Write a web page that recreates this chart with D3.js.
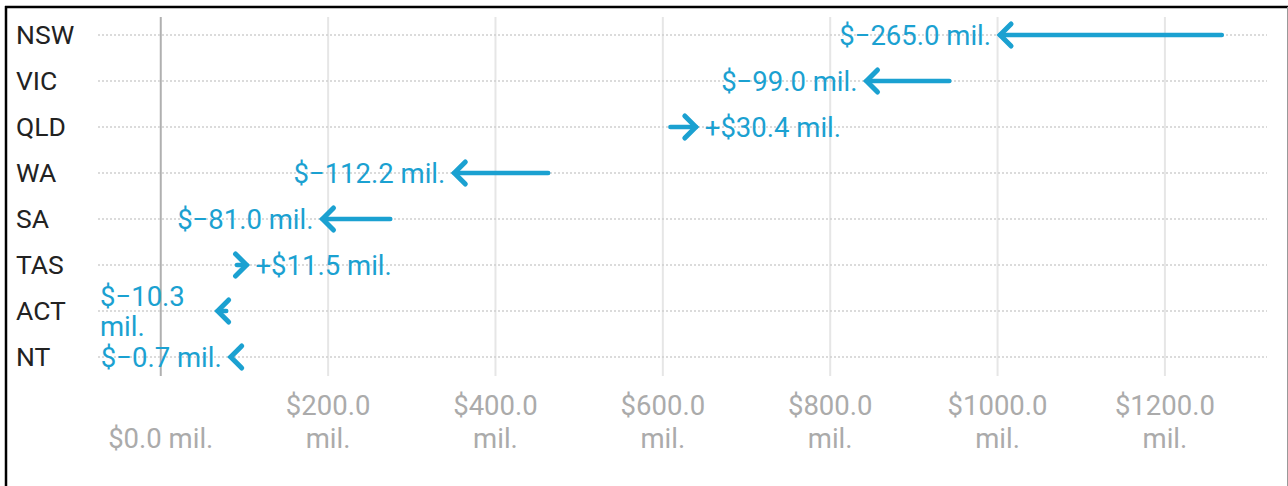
<!DOCTYPE html>
<html>
<head>
<meta charset="utf-8">
<script src="https://cdn.jsdelivr.net/npm/d3@7"></script>
<style>
  body { margin: 0; background: #fff; }
  text { font-family: Roboto, "Noto Sans", sans-serif; }
</style>
</head>
<body>
<div id="chart"></div>
<script>
// states, budget before and after (millions)
const states = ["NSW", "VIC", "QLD", "WA", "SA", "TAS", "ACT", "NT"];
const before = [1268.0, 942.4, 609.0, 463.0, 274.3, 91.0, 78.3, 84.3];
const after = [1003.0, 843.4, 639.4, 350.8, 193.3, 102.5, 68.0, 83.6];
const changes = [-265.0, -99.0, 30.4, -112.2, -81.0, 11.5, -10.3, -0.7];
const xTicks = [0, 200, 400, 600, 800, 1000, 1200];
const xDomain = [-75, 1322];

const W = 1288, H = 486;
const padL = 98, padR = 1267, padT = 12, padB = 380;
const blue = "#1ba1d1";
const fs = 27.5;

const svg = d3.select("#chart").append("svg")
    .attr("width", W)
    .attr("height", H);

// frame like the screenshot
svg.append("line").attr("x1", 5).attr("x2", W).attr("y1", 7).attr("y2", 7)
    .attr("stroke", "#000").attr("stroke-width", 2.5);
svg.append("line").attr("x1", 6).attr("x2", 6).attr("y1", 6).attr("y2", H)
    .attr("stroke", "#000").attr("stroke-width", 2.5);
svg.append("line").attr("x1", W - 0.5).attr("x2", W - 0.5).attr("y1", 7).attr("y2", H)
    .attr("stroke", "#999").attr("stroke-width", 1);

const x = d3.scaleLinear().domain(xDomain).range([padL, padR]);
const y = d3.scaleBand().domain(states).range([padT, padB]);
const yc = d => y(d) + y.bandwidth() / 2;

// vertical grid
svg.append("g")
    .selectAll("line")
    .data(xTicks)
    .join("line")
    .attr("x1", d => x(d)).attr("x2", d => x(d))
    .attr("y1", 17).attr("y2", 376)
    .attr("stroke", d => d === 0 ? "#b0b0b0" : "#e6e6e6")
    .attr("stroke-width", 2);

// dotted row lines
svg.append("g")
    .selectAll("line")
    .data(states)
    .join("line")
    .attr("x1", padL).attr("x2", padR)
    .attr("y1", d => yc(d)).attr("y2", d => yc(d))
    .attr("stroke", "#cfcfcf")
    .attr("stroke-width", 1.5)
    .attr("stroke-dasharray", "2,2");

// x tick labels, bottom aligned, wrapped when two words
const tickFmt = d => "$" + d.toFixed(1) + " mil.";
const xlab = svg.append("g")
    .selectAll("text")
    .data(xTicks)
    .join("text")
    .attr("x", d => x(d))
    .attr("text-anchor", "middle")
    .attr("fill", "#ababab")
    .style("font-size", fs + "px");
xlab.each(function (d) {
    const t = d3.select(this);
    const lines = d === 0 ? [tickFmt(d)] : tickFmt(d).split(" ");
    lines.forEach((l, i) => {
        t.append("tspan")
            .attr("x", x(d))
            .attr("y", 448 - (lines.length - 1 - i) * 33)
            .text(l);
    });
});

// row labels
svg.append("g")
    .selectAll("text")
    .data(states)
    .join("text")
    .attr("x", 16)
    .attr("y", d => yc(d))
    .attr("dy", "0.35em")
    .attr("fill", "#222")
    .style("font-size", "26.5px")
    .text(d => d);

const data = states.map((s, i) => ({ s, a: before[i], b: after[i], c: changes[i] }));

// arrows
const arr = svg.append("g")
    .selectAll("g")
    .data(data)
    .join("g")
    .attr("transform", d => `translate(0,${yc(d.s)})`);

arr.append("line")
    .attr("x1", d => x(d.a))
    .attr("x2", d => x(d.b))
    .attr("stroke", blue)
    .attr("stroke-width", 4.5)
    .attr("stroke-linecap", "round");

arr.append("path")
    .attr("d", d => {
        const t = x(d.b), s = d.c < 0 ? 1 : -1;
        return `M${t + s * 11},-11L${t},0L${t + s * 11},11`;
    })
    .attr("fill", "none")
    .attr("stroke", blue)
    .attr("stroke-width", 5)
    .attr("stroke-linecap", "round")
    .attr("stroke-linejoin", "miter");

// value labels
const fmt = c => (c < 0 ? "$\u2212" + Math.abs(c).toFixed(1) : "+$" + c.toFixed(1)) + " mil.";
arr.append("text")
    .attr("fill", blue)
    .style("font-size", fs + "px")
    .each(function (d) {
        const t = d3.select(this);
        const tip = x(d.b);
        const str = fmt(d.c);
        if (d.c > 0) {
            t.attr("x", tip + 9).attr("dy", "0.35em").text(str);
            return;
        }
        t.attr("text-anchor", "end").attr("x", tip - 9).attr("dy", "0.35em").text(str);
        const w = this.getComputedTextLength();
        if (tip - 9 - w < padL - 12) {
            // not enough room: wrap at the left edge
            t.text(null).attr("text-anchor", "start").attr("dy", null);
            const words = str.split(" ");
            words.forEach((wd, i) => {
                t.append("tspan")
                    .attr("x", padL + 2)
                    .attr("y", (i - (words.length - 1) / 2) * 30)
                    .attr("dy", "0.35em")
                    .text(wd);
            });
        }
    });
</script>
</body>
</html>
